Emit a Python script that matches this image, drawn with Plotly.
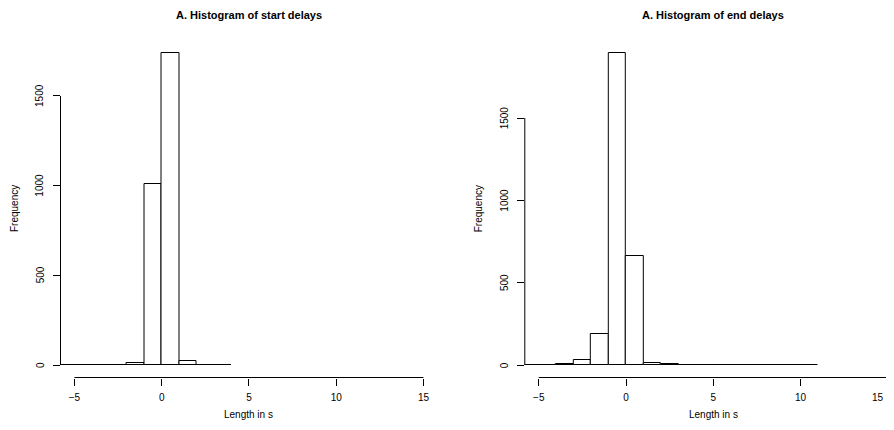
import plotly.graph_objects as go

# ---- data ----
start_bin_left = [-6, -5, -4, -3, -2, -1, 0, 1, 2, 3]
start_counts = [2, 1, 1, 2, 13, 1011, 1737, 20, 2, 1]

end_bin_left = [-6, -5, -4, -3, -2, -1, 0, 1, 2, 3, 4, 5, 6, 7, 8, 9, 10]
end_counts = [1, 2, 7, 32, 186, 1892, 663, 14, 4, 2, 1, 2, 1, 1, 1, 1, 2]

x_ticks = [-5, 0, 5, 10, 15]
y_ticks = [0, 500, 1000, 1500]
titles = ["A. Histogram of start delays", "A. Histogram of end delays"]
x_title = "Length in s"
y_title = "Frequency"

# page has an 8px body margin: build the figure in page coordinates minus 8
OFF = 8
W, H = 894 - 2 * OFF, 430 - 2 * OFF
FONT = "Liberation Sans, Arial, Helvetica, sans-serif"


def px(xp):  # page x -> paper fraction
    return (xp - OFF) / W


def py(yp):  # page y -> paper fraction
    return 1 - (yp - OFF) / H


fig = go.Figure()


def add_hist(lefts, counts, xa, ya):
    fig.add_trace(go.Bar(
        x=[l + 0.5 for l in lefts], y=counts, width=1,
        marker=dict(color="white", line=dict(color="black", width=1)),
        xaxis=xa, yaxis=ya, showlegend=False, hoverinfo="x+y",
    ))


add_hist(start_bin_left, start_counts, "x", "y")
add_hist(end_bin_left, end_counts, "x2", "y2")

plot_top, plot_bot = 41, 377.5
ydom = [py(plot_bot), py(plot_top)]
left_px = [60.5, 437.4]
right_px = [524.8, 894 - OFF]
left_dom = [px(left_px[0]), px(left_px[1])]
right_dom = [px(right_px[0]), 1.0]
ppu = (437.4 - 60.5) / 21.6  # pixels per second
right_max = -5.8 + (right_px[1] - right_px[0]) / ppu

# right panel: ticks inside its visible range get axis labels, the rest annotations
right_ticks = [t for t in x_ticks if t <= right_max]
right_extra = [t for t in x_ticks if t > right_max]


def yrange(m):
    return [-0.04 * m, 1.04 * m]


axis_common = dict(showgrid=False, zeroline=False, showline=False,
                   ticks="outside", ticklen=7, tickwidth=1, tickcolor="black",
                   tickfont=dict(size=10, color="black", family=FONT))

fig.update_layout(
    width=W, height=H,
    margin=dict(l=0, r=0, t=0, b=0),
    paper_bgcolor="white", plot_bgcolor="white",
    font=dict(family=FONT, color="black"),
    bargap=0,
    xaxis=dict(domain=left_dom, range=[-5.8, 15.8], tickvals=x_ticks,
               ticklabelstandoff=3, ticklabeloverflow="allow", anchor="y",
               **axis_common),
    yaxis=dict(domain=ydom, range=yrange(max(start_counts)), tickvals=y_ticks,
               showticklabels=False, anchor="x", **axis_common),
    xaxis2=dict(domain=right_dom, range=[-5.8, right_max], tickvals=right_ticks,
                ticklabelstandoff=3, ticklabeloverflow="allow", anchor="y2",
                **axis_common),
    yaxis2=dict(domain=ydom, range=yrange(max(end_counts)), tickvals=y_ticks,
                showticklabels=False, anchor="x2", **axis_common),
)

shapes = []
annotations = []
for xs, ys, pxr, title in [("x", "y", left_px, titles[0]),
                           ("x2", "y2", right_px, titles[1])]:
    shapes.append(dict(type="line", xref=xs, yref=ys + " domain",
                       x0=x_ticks[0], x1=x_ticks[-1], y0=0, y1=0,
                       line=dict(color="black", width=1)))
    shapes.append(dict(type="line", xref=xs + " domain", yref=ys,
                       x0=0, x1=0, y0=y_ticks[0], y1=y_ticks[-1],
                       line=dict(color="black", width=1)))
    cx = pxr[0] + (437.4 - 60.5) / 2
    annotations.append(dict(text="<b>" + title + "</b>", xref="paper", yref="paper",
                            x=px(cx), y=1.0, showarrow=False,
                            font=dict(size=11, family=FONT, color="black"),
                            xanchor="center", yanchor="top", borderpad=0))
    annotations.append(dict(text=x_title, xref="paper", yref="paper",
                            x=px(cx), y=py(414), showarrow=False,
                            font=dict(size=10, family=FONT, color="black"),
                            xanchor="center", yanchor="middle"))
    annotations.append(dict(text=y_title, xref="paper", yref="paper",
                            x=px(pxr[0] - 45.5), y=py(209), showarrow=False,
                            textangle=-90,
                            font=dict(size=10, family=FONT, color="black"),
                            xanchor="center", yanchor="middle"))
    for t in y_ticks:
        annotations.append(dict(text=str(t), xref="paper", yref=ys,
                                x=px(pxr[0] - 20.5), y=t, showarrow=False,
                                textangle=-90,
                                font=dict(size=10, family=FONT, color="black"),
                                xanchor="center", yanchor="middle"))

# tick labels of the right panel that fall just past the page edge
for t in right_extra:
    annotations.append(dict(text=str(t), xref="paper", yref="paper",
                            x=1.0, y=py(397), showarrow=False,
                            font=dict(size=10, family=FONT, color="black"),
                            xanchor="right", yanchor="middle"))

fig.update_layout(shapes=shapes, annotations=annotations)
fig.write_html("out.html")
